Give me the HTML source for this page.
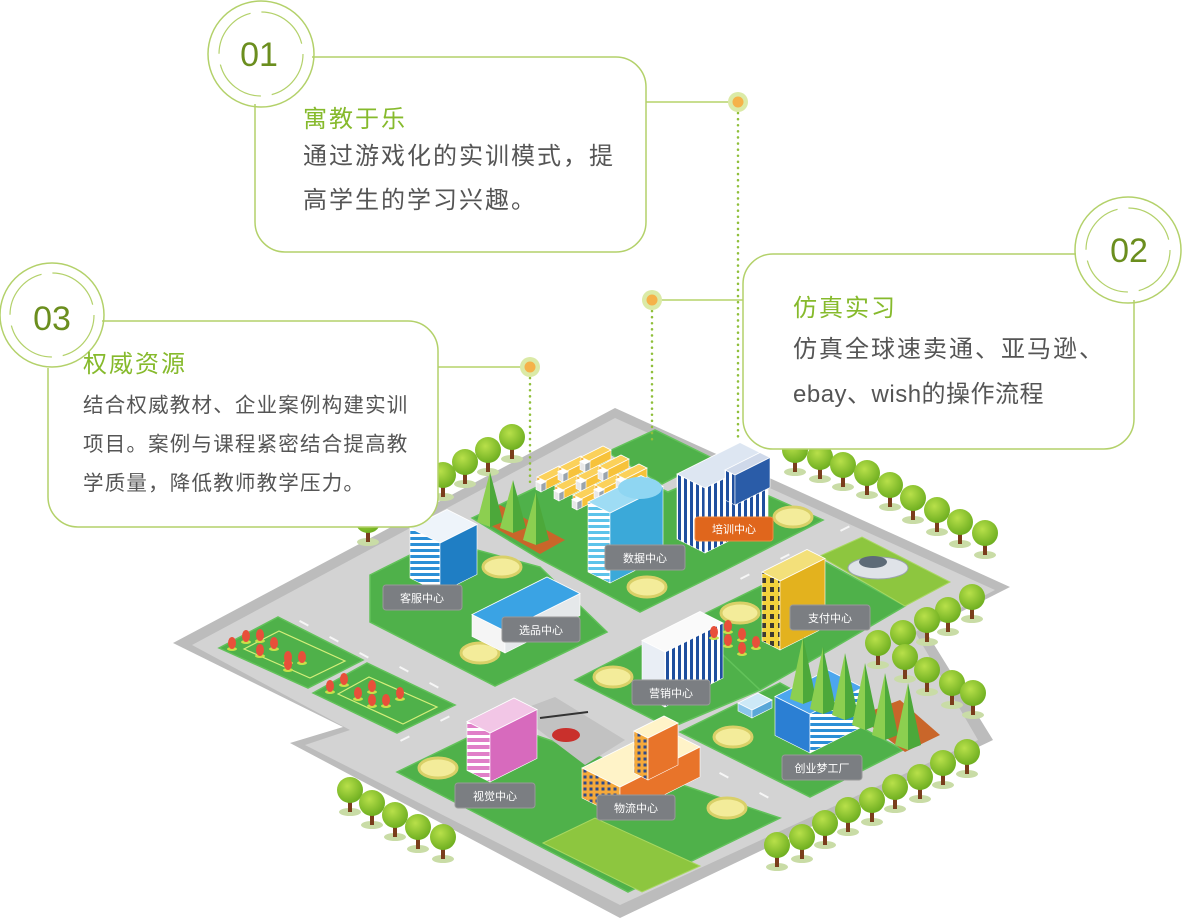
<!DOCTYPE html>
<html><head><meta charset="utf-8">
<style>
html,body{margin:0;padding:0;background:#fff;width:1182px;height:920px;overflow:hidden}
svg{display:block}
.t{font-family:"Liberation Sans","Noto Sans CJK SC",sans-serif}
.lb{font-family:"Liberation Sans","Noto Sans CJK SC",sans-serif;font-size:11px;fill:#fff;text-anchor:middle}
</style></head><body>
<svg id="s" width="1182" height="920" viewBox="0 0 1182 920" xmlns="http://www.w3.org/2000/svg">
<defs>
<pattern id="stB" width="6" height="6" patternUnits="userSpaceOnUse"><rect width="6" height="6" fill="#2b8fd6"/><rect width="6" height="3" fill="#fff"/></pattern>
<pattern id="stC" width="6" height="6" patternUnits="userSpaceOnUse"><rect width="6" height="6" fill="#5cc3ea"/><rect width="6" height="3" fill="#fff"/></pattern>
<pattern id="stV" width="6" height="6" patternUnits="userSpaceOnUse"><rect width="6" height="6" fill="#fff"/><rect width="3" height="6" fill="#1f4f9e"/></pattern>
<pattern id="stP" width="7" height="7" patternUnits="userSpaceOnUse"><rect width="7" height="7" fill="#e07fc8"/><rect width="7" height="3" fill="#fff"/></pattern>
<pattern id="win" width="8" height="9" patternUnits="userSpaceOnUse"><rect width="8" height="9" fill="#f3d23c"/><rect x="2" y="2" width="4" height="5" fill="#3d3a30"/></pattern>
<pattern id="winO" width="6" height="6" patternUnits="userSpaceOnUse"><rect width="6" height="6" fill="#f5a93a"/><rect x="1.5" y="1.5" width="3" height="3" fill="#2e4a8a"/></pattern>
<radialGradient id="tg" cx="0.4" cy="0.35" r="0.7"><stop offset="0" stop-color="#b8e04a"/><stop offset="1" stop-color="#6aac1e"/></radialGradient>
</defs>

<polygon points="615,408 1010,587 925,630 993,740 620,918 290,743 343,727 173,643" fill="#bcbcbc"/>
<polygon points="615,418 995,590 915,632 978,740 620,905 305,745 350,730 192,645" fill="#d3d3d3"/>

<g fill="#4fb14a" stroke="#62c25a" stroke-width="1.5">
<polygon points="607,452 655,430 712,458 662,484"/>
<polygon points="472,518 598,458 668,492 715,472 823,520 725,570 640,612 538,558"/>
<polygon points="370,575 440,540 540,567 607,632 495,686 370,622"/>
<polygon points="219,648 278,617 363,660 308,688"/>
<polygon points="313,693 367,663 455,705 397,733"/>
<polygon points="688,622 818,558 905,606 830,650 760,690"/>
<polygon points="575,680 688,622 760,690 670,728"/>
<polygon points="680,732 780,683 903,750 810,797"/>
<polygon points="397,772 500,722 520,730 780,818 628,892"/>
</g>
<polygon points="820,556 862,537 950,582 905,606" fill="#8dc63f" stroke="#a8d860"/>
<polygon points="543,843 595,818 700,866 642,892" fill="#8dc63f" stroke="#a8d860"/>
<polygon points="515,712 555,697 625,740 585,765" fill="#c2c2c2"/>
<g fill="none" stroke="#d6ef7a" stroke-width="1.2">
<polygon points="244,649 279,631 345,661 310,678"/>
<polygon points="338,694 369,677 437,707 403,724"/>
</g>
<g fill="#fff" opacity="0.8">
<rect x="300" y="620" width="10" height="2" transform="rotate(28 300 620)"/>
<rect x="330" y="636" width="10" height="2" transform="rotate(28 330 636)"/>
<rect x="360" y="652" width="10" height="2" transform="rotate(28 360 652)"/>
<rect x="400" y="666" width="10" height="2" transform="rotate(28 400 666)"/>
<rect x="430" y="682" width="10" height="2" transform="rotate(28 430 682)"/>
<rect x="640" y="730" width="10" height="2" transform="rotate(28 640 730)"/>
<rect x="680" y="750" width="10" height="2" transform="rotate(28 680 750)"/>
<rect x="720" y="772" width="10" height="2" transform="rotate(28 720 772)"/>
<rect x="760" y="792" width="10" height="2" transform="rotate(28 760 792)"/>
<rect x="400" y="740" width="10" height="2" transform="rotate(-27 400 740)"/>
<rect x="440" y="720" width="10" height="2" transform="rotate(-27 440 720)"/>
<rect x="740" y="578" width="10" height="2" transform="rotate(-27 740 578)"/>
<rect x="780" y="558" width="10" height="2" transform="rotate(-27 780 558)"/>
<rect x="840" y="530" width="10" height="2" transform="rotate(-27 840 530)"/>
</g>

<g fill="#f3ec9a" stroke="#d9d068" stroke-width="3">
<ellipse cx="502" cy="567" rx="19" ry="10"/><ellipse cx="480" cy="653" rx="19" ry="10"/>
<ellipse cx="647" cy="587" rx="19" ry="10"/><ellipse cx="438" cy="768" rx="19" ry="10"/>
<ellipse cx="613" cy="677" rx="19" ry="10"/><ellipse cx="793" cy="517" rx="19" ry="10"/>
<ellipse cx="740" cy="613" rx="19" ry="10"/><ellipse cx="733" cy="737" rx="19" ry="10"/>
<ellipse cx="727" cy="808" rx="19" ry="10"/>
</g>

<g id="dyn"></g>

<g>
<rect x="383" y="585" width="79" height="25" rx="3" fill="#7b7e82" stroke="#999"/><text class="lb" x="422" y="602">客服中心</text>
<rect x="502" y="617" width="78" height="25" rx="3" fill="#7b7e82" stroke="#999"/><text class="lb" x="541" y="634">选品中心</text>
<rect x="605" y="545" width="80" height="25" rx="3" fill="#7b7e82" stroke="#999"/><text class="lb" x="645" y="562">数据中心</text>
<rect x="695" y="517" width="78" height="24" rx="3" fill="#e0661c" stroke="#f08a40"/><text class="lb" x="734" y="533">培训中心</text>
<rect x="790" y="605" width="80" height="25" rx="3" fill="#7b7e82" stroke="#999"/><text class="lb" x="830" y="622">支付中心</text>
<rect x="632" y="680" width="78" height="25" rx="3" fill="#7b7e82" stroke="#999"/><text class="lb" x="671" y="697">营销中心</text>
<rect x="782" y="755" width="80" height="25" rx="3" fill="#7b7e82" stroke="#999"/><text class="lb" x="822" y="772">创业梦工厂</text>
<rect x="455" y="783" width="80" height="25" rx="3" fill="#7b7e82" stroke="#999"/><text class="lb" x="495" y="800">视觉中心</text>
<rect x="597" y="795" width="78" height="25" rx="3" fill="#7b7e82" stroke="#999"/><text class="lb" x="636" y="812">物流中心</text>
</g>

<g stroke="#b5d36a" stroke-width="1.5" fill="none">
<line x1="646" y1="102" x2="732" y2="102"/>
<line x1="743" y1="300" x2="658" y2="300"/>
<line x1="438" y1="367" x2="524" y2="367"/>
</g>
<g stroke="#8fbf3a" stroke-width="2.5" stroke-dasharray="0.1 6" stroke-linecap="round" fill="none">
<line x1="738" y1="113" x2="738" y2="440"/>
<line x1="652" y1="311" x2="652" y2="445"/>
<line x1="530" y1="378" x2="530" y2="485"/>
</g>
<g>
<circle cx="738" cy="102" r="10" fill="#dbeaa6"/><circle cx="738" cy="102" r="5.5" fill="#f5b24a"/>
<circle cx="652" cy="300" r="10" fill="#dbeaa6"/><circle cx="652" cy="300" r="5.5" fill="#f5b24a"/>
<circle cx="530" cy="367" r="10" fill="#dbeaa6"/><circle cx="530" cy="367" r="5.5" fill="#f5b24a"/>
</g>

<g fill="#fff" stroke="#b3d16a" stroke-width="1.5">
<path d="M312,57 H616 A30,30 0 0 1 646,87 V222 A30,30 0 0 1 616,252 H285 A30,30 0 0 1 255,222 V104"/>
<path d="M1076,254 H773 A30,30 0 0 0 743,284 V419 A30,30 0 0 0 773,449 H1104 A30,30 0 0 0 1134,419 V300"/>
<path d="M102,321 H408 A30,30 0 0 1 438,351 V497 A30,30 0 0 1 408,527 H78 A30,30 0 0 1 48,497 V368"/>
</g>
<g fill="none" stroke="#b3d16a">
<circle cx="261" cy="54" r="53" stroke-width="1.5"/>
<circle cx="261" cy="54" r="42" stroke-width="1.2" stroke-dasharray="55 11"/>
<circle cx="1128" cy="250" r="53" stroke-width="1.5"/>
<circle cx="1128" cy="250" r="42" stroke-width="1.2" stroke-dasharray="55 11"/>
<circle cx="52" cy="315" r="52" stroke-width="1.5"/>
<circle cx="52" cy="315" r="42" stroke-width="1.2" stroke-dasharray="55 11"/>
</g>
<g class="t" fill="#6b8e1e" font-size="34" text-anchor="middle">
<text x="259" y="66">01</text><text x="1129" y="262">02</text><text x="52" y="330">03</text>
</g>
<g class="t" fill="#86ba2c" font-size="24" letter-spacing="2">
<text x="303" y="127">寓教于乐</text>
<text x="793" y="316">仿真实习</text>
<text x="83" y="372">权威资源</text>
</g>
<g class="t" fill="#555" font-size="24" letter-spacing="2">
<text x="303" y="164">通过游戏化的实训模式，提</text>
<text x="303" y="208">高学生的学习兴趣。</text>
<text x="793" y="357">仿真全球速卖通、亚马逊、</text>
<text x="793" y="402" letter-spacing="0.5">ebay、wish的操作流程</text>
</g>
<g class="t" fill="#555" font-size="20.5" letter-spacing="1.2">
<text x="83" y="412">结合权威教材、企业案例构建实训</text>
<text x="83" y="451">项目。案例与课程紧密结合提高教</text>
<text x="83" y="490">学质量，降低教师教学压力。</text>
</g>
</svg>
<script>
(function(){
var NS="http://www.w3.org/2000/svg",g=document.getElementById("dyn");
function el(t,a,p){var e=document.createElementNS(NS,t);for(var k in a)e.setAttribute(k,a[k]);(p||g).appendChild(e);return e;}
function P(a){return a.map(function(p){return p[0]+","+p[1]}).join(" ");}
function box(cx,by,wl,wr,h,cl,cr,ct){
 var L=[cx-wl,by-wl/2],R=[cx+wr,by-wr/2],B=[cx,by];
 var grp=el("g",{});
 el("polygon",{points:P([L,B,[B[0],B[1]-h],[L[0],L[1]-h]]),fill:cl,stroke:"#fff","stroke-width":0.6},grp);
 el("polygon",{points:P([B,R,[R[0],R[1]-h],[B[0],B[1]-h]]),fill:cr,stroke:"#fff","stroke-width":0.6},grp);
 el("polygon",{points:P([[B[0],B[1]-h],[L[0],L[1]-h],[cx-wl+wr,by-wl/2-wr/2-h],[R[0],R[1]-h]]),fill:ct,stroke:"#fff","stroke-width":0.8},grp);
 return grp;
}
function tree(x,y){
 var grp=el("g",{});
 el("ellipse",{cx:x,cy:y+22,rx:11,ry:4,fill:"#c9dca6"},grp);
 el("rect",{x:x-2,y:y+6,width:4,height:16,fill:"#7a3e1c"},grp);
 el("circle",{cx:x,cy:y,r:13,fill:"url(#tg)"},grp);
}
function cone(x,y,h){
 var grp=el("g",{});
 el("polygon",{points:P([[x,y],[x-13,y+h],[x,y+h+5]]),fill:"#8ccf50"},grp);
 el("polygon",{points:P([[x,y],[x,y+h+5],[x+13,y+h]]),fill:"#4ca83a"},grp);
}
[[795,450],[820,457],[843,465],[867,473],[890,485],[913,498],[937,510],[960,522],[985,533],
 [443,475],[465,462],[488,450],[512,437],[368,520]].forEach(function(t){tree(t[0],t[1])});
el("polygon",{points:"478,518 500,505 565,540 540,554",fill:"#c9662a"});
el("polygon",{points:"858,716 900,700 940,735 905,752",fill:"#c9662a"});
cone(490,472,50);cone(513,480,48);cone(536,492,48);
for(var i=0;i<3;i++)for(var j=0;j<3;j++){var x=545+i*22+j*18,y=500-i*10+j*9-10;box(x,y,8,22,9,"#f0a418","#f7c23a","#fbd15a");box(x-4,y+2,5,5,8,"#e8e8e8","#9aa4ad","#fff");}
box(440,593,30,37,50,"url(#stB)","#1f7ec4","#eef4fa");
box(505,653,33,75,22,"#f5f5f5","#e5e8ea","#3aa3e4");
box(610,583,22,53,70,"url(#stC)","#3ba9d9","#9edcf4");
el("ellipse",{cx:640,cy:488,rx:22,ry:11,fill:"#8fd6f2"});
box(705,553,28,63,65,"url(#stV)","url(#stV)","#dde6f2");
box(735,505,10,35,30,"url(#stV)","#2a5ca8","#cfd9ea");
box(780,650,18,45,69,"url(#win)","#e3b21e","#f3e07a");
box(665,707,23,58,55,"#e9eef5","url(#stV)","#fafafa");
box(752,718,14,20,8,"#8cc6ea","#5aa7d8","#cde9f7");
box(810,753,35,53,39,"#2b7fd3","url(#stB)","#4ca6ee");
box(490,782,23,47,49,"url(#stP)","#d76abd","#f2c6e6");
box(620,817,38,80,30,"url(#winO)","#e8742a","#fff3c8");
box(648,780,14,30,42,"url(#winO)","#e8742a","#fff3c8");
el("ellipse",{cx:566,cy:735,rx:14,ry:7,fill:"#c9302c"});
el("line",{x1:540,y1:718,x2:588,y2:712,stroke:"#333","stroke-width":2});
el("ellipse",{cx:878,cy:568,rx:30,ry:11,fill:"#dfe3e8",stroke:"#9aa3ad"});
el("ellipse",{cx:873,cy:562,rx:14,ry:6,fill:"#5d6b78"});
[[803,637],[823,647],[845,653],[865,663],[885,673],[908,683]].forEach(function(c){cone(c[0],c[1],62)});
[[232,643],[246,636],[260,650],[274,643],[288,657],[260,635],[288,664],[302,657],[330,686],[344,679],[358,693],[372,686],[386,700],[400,693],[372,700],[714,632],[728,640],[742,648],[728,626],[742,634],[756,642]].forEach(function(f){
 el("ellipse",{cx:f[0],cy:f[1]+6,rx:5,ry:2,fill:"#c8e04a"});
 el("ellipse",{cx:f[0],cy:f[1],rx:4,ry:6,fill:"#e8503a"});});
[[972,597],[948,610],[927,620],[903,633],[878,643],[905,657],[927,670],[952,683],[973,693],
 [967,752],[943,763],[920,777],[895,787],[872,800],[848,810],[825,823],[802,837],[777,845],
 [350,790],[372,803],[395,815],[418,827],[443,837]].sort(function(a,b){return a[1]-b[1]}).forEach(function(t){tree(t[0],t[1])});
})();
</script>
</body></html>
